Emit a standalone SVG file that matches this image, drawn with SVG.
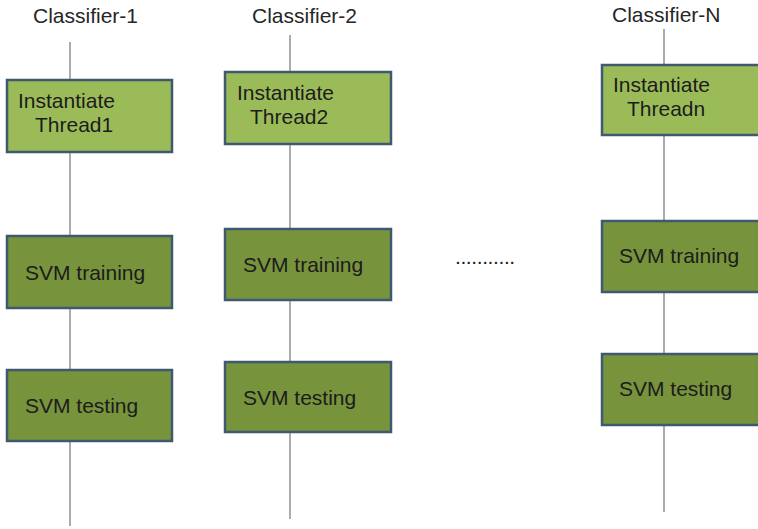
<svg xmlns="http://www.w3.org/2000/svg" width="758" height="529" viewBox="0 0 758 529">
<style>
.t{font-family:"Liberation Sans",Arial,sans-serif;font-size:21px;fill:#1c1c1c}
.h{font-family:"Liberation Sans",Arial,sans-serif;font-size:21px;fill:#262626}
.l{stroke:#a9adb1;stroke-width:2;fill:none}
.b1{fill:#9bbb59;stroke:#3f5a70;stroke-width:2.5}
.b2{fill:#77933c;stroke:#3f5a70;stroke-width:2.5}
</style>
<rect width="758" height="529" fill="#fff"/>
<g id="connectors">
<line class="l" x1="70" y1="42" x2="70" y2="526"/>
<line class="l" x1="290" y1="35" x2="290" y2="519"/>
<line class="l" x1="664" y1="29" x2="664" y2="512"/>
</g>
<g id="titles">
<text class="h" x="33" y="23">Classifier-1</text>
<text class="h" x="252" y="23">Classifier-2</text>
<text class="h" x="612" y="22">Classifier-N</text>
</g>
<g id="inst1"><rect class="b1" x="7" y="80" width="165" height="72"/><text class="t" x="18" y="108">Instantiate</text><text class="t" x="35" y="132">Thread1</text></g>
<g id="train1"><rect class="b2" x="7" y="236" width="165" height="72"/><text class="t" x="25" y="280">SVM training</text></g>
<g id="test1"><rect class="b2" x="7" y="370" width="165" height="71"/><text class="t" x="25" y="413">SVM testing</text></g>
<g id="inst2"><rect class="b1" x="225" y="72" width="166" height="72"/><text class="t" x="237" y="100">Instantiate</text><text class="t" x="250" y="124">Thread2</text></g>
<g id="train2"><rect class="b2" x="225" y="229" width="166" height="71"/><text class="t" x="243" y="272">SVM training</text></g>
<g id="test2"><rect class="b2" x="225" y="362" width="166" height="70"/><text class="t" x="243" y="405">SVM testing</text></g>
<g id="instn"><rect class="b1" x="602" y="65" width="170" height="70"/><text class="t" x="613" y="92">Instantiate</text><text class="t" x="627" y="116">Threadn</text></g>
<g id="trainn"><rect class="b2" x="602" y="221" width="170" height="71"/><text class="t" x="619" y="263">SVM training</text></g>
<g id="testn"><rect class="b2" x="602" y="354" width="170" height="71"/><text class="t" x="619" y="396">SVM testing</text></g>
<g id="dots"><text class="t" x="455" y="264" style="letter-spacing:-0.4px">...........</text></g>
</svg>
